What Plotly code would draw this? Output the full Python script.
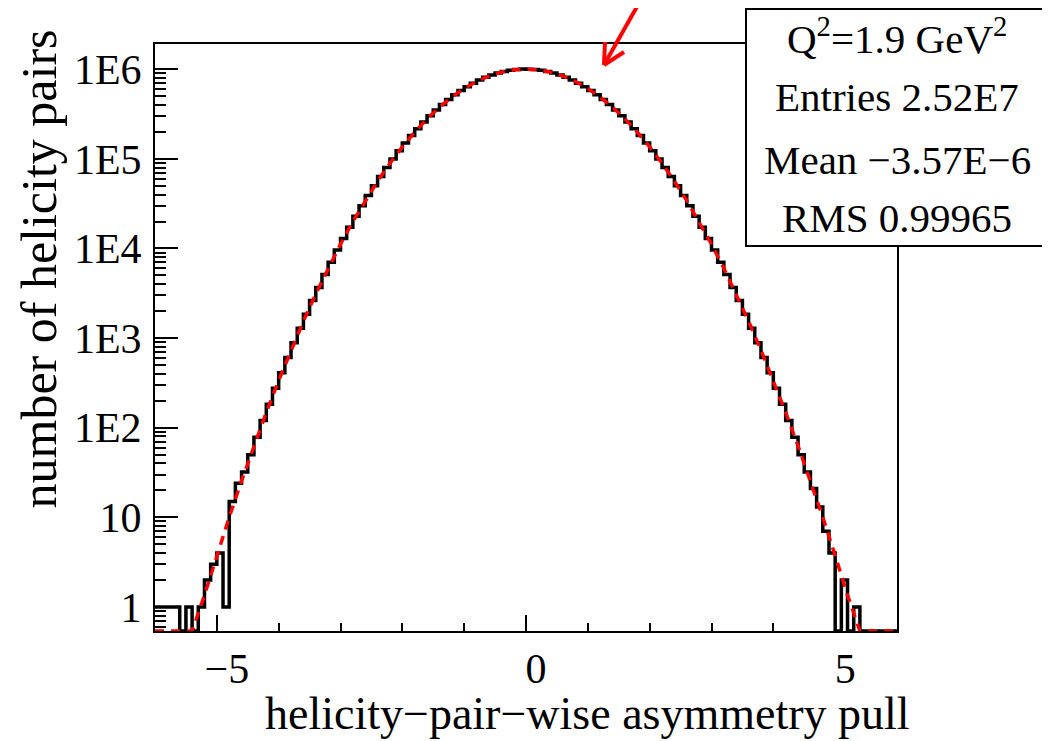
import numpy as np
import plotly.graph_objects as go

# ---------------- data ----------------
BIN_LO = -6.0
BIN_W = 0.1
# counts per 0.1-wide bin, from [-6.0,-5.9] to [5.9,6.0]
COUNTS = [
    1, 1, 1, 1, 0, 1, 0, 1, 2, 3, 4, 1, 15, 24,
    32, 50, 78, 120, 183, 275, 411, 608, 889, 1290,
    1840, 2620, 3670, 5110, 7040, 9600, 12900, 17300, 22900, 30000,
    38900, 50000, 63500, 80000, 99600, 123000, 150000, 182000, 217000, 258000,
    302000, 351000, 404000, 460000, 519000, 579000, 640000, 700000, 759000, 814000,
    864000, 908000, 945000, 974000, 994000, 1004000,
    1003000, 994000, 974000, 945000, 908000, 864000,
    814000, 759000, 700000, 640000, 579000, 519000, 460000, 404000, 351000, 302000,
    258000, 217000, 182000, 150000, 123000, 99600, 80000, 63500, 50000, 38900,
    30000, 22900, 17300, 12900, 9600, 7040, 5110, 3670, 2620, 1840,
    1290, 889, 608, 411, 275, 183, 120, 78, 50, 32,
    21, 13, 7, 4, 0, 2, 0, 1, 0, 0, 0, 0, 0, 0,
]

# red dashed Gaussian fit, sampled along the curve
FIT_X = [-6.0, -5.8, -5.6, -5.4, -5.2, -5.0, -4.8, -4.6, -4.4, -4.2, -4.0,
         -3.8, -3.6, -3.4, -3.2, -3.0, -2.8, -2.6, -2.4, -2.2, -2.0,
         -1.8, -1.6, -1.4, -1.2, -1.0, -0.8, -0.6, -0.4, -0.2, 0.0,
         0.2, 0.4, 0.6, 0.8, 1.0, 1.2, 1.4, 1.6, 1.8, 2.0,
         2.2, 2.4, 2.6, 2.8, 3.0, 3.2, 3.4, 3.6, 3.8, 4.0,
         4.2, 4.4, 4.6, 4.8, 5.0, 5.2, 5.4, 5.6, 5.8, 6.0]
FIT_Y = [0.015, 0.05, 0.16, 0.47, 1.35, 3.75, 10.0, 25.5, 62.8, 148, 337,
         735, 1542, 3104, 6006, 11160, 19940, 34220, 56410, 89370, 136000,
         198900, 279400, 377200, 489200, 609600, 729800, 839400, 927700, 985100, 1005000,
         985100, 927700, 839400, 729800, 609600, 489200, 377200, 279400, 198900, 136000,
         89370, 56410, 34220, 19940, 11160, 6006, 3104, 1542, 735, 337,
         148, 62.8, 25.5, 10.0, 3.75, 1.35, 0.47, 0.16, 0.05, 0.015]

X_TICKS = [-5, 0, 5]
X_TICK_TEXT = ["\u22125", "0", "5"]
X_MINOR = [-6, -4, -3, -2, -1, 1, 2, 3, 4, 6]
Y_TICKS = [1, 10, 100, 1e3, 1e4, 1e5, 1e6]
Y_TICK_TEXT = ["1", "10", "1E2", "1E3", "1E4", "1E5", "1E6"]

STAT_LINES = ["Q<sup>2</sup>=1.9 GeV<sup>2</sup>", "Entries 2.52E7",
              "Mean \u22123.57E\u22126", "RMS 0.99965"]
X_TITLE = "helicity\u2212pair\u2212wise asymmetry pull"
Y_TITLE = "number of helicity pairs"

# ---------------- layout geometry (page pixels) ----------------
PAGE_OFF = 8                      # default body margin of the html page
W, H = 1050 - PAGE_OFF, 741 - PAGE_OFF
L, R, T, B = 155, 897, 44, 631    # plot frame, page pixels
Y_LOG_RANGE = [-0.269, 6.282]
Y_FLOOR = 10 ** Y_LOG_RANGE[0]
FONT = "Liberation Serif"


def px(x):
    return (x - L) / (R - L)


def py(y):
    return (B - y) / (B - T)


counts = np.array(COUNTS, dtype=float)
edges = BIN_LO + BIN_W * np.arange(len(counts) + 1)
step_y = np.append(np.maximum(counts, Y_FLOOR), max(counts[-1], Y_FLOOR))
fit_y = np.maximum(np.array(FIT_Y), Y_FLOOR)

fig = go.Figure()
fig.add_trace(go.Scatter(x=edges, y=step_y, mode="lines", line_shape="hv",
                         line=dict(color="black", width=3.5), showlegend=False,
                         hoverinfo="skip"))
fig.add_trace(go.Scatter(x=FIT_X, y=fit_y, mode="lines",
                         line=dict(color="#ff0000", width=3.5, dash="9px,7px"),
                         showlegend=False, hoverinfo="skip"))

minor_y = [k * 10.0 ** n for n in range(-1, 7) for k in range(2, 10)
           if Y_LOG_RANGE[0] <= np.log10(k * 10.0 ** n) <= Y_LOG_RANGE[1]]

fig.update_layout(
    width=W, height=H,
    margin=dict(l=L - PAGE_OFF, r=W - (R - PAGE_OFF), t=T - PAGE_OFF,
                b=H - (B - PAGE_OFF), pad=0),
    paper_bgcolor="white", plot_bgcolor="white",
    font=dict(family=FONT, color="black"),
    xaxis=dict(range=[-6, 6], tickmode="array", tickvals=X_TICKS, ticktext=X_TICK_TEXT,
               ticks="inside", ticklen=16, tickwidth=2, tickcolor="black",
               showline=True, linewidth=2, linecolor="black", mirror=True,
               showgrid=False, zeroline=False,
               tickfont=dict(family=FONT, size=42, color="black"),
               ticklabelshift=10, ticklabelstandoff=0,
               minor=dict(tickmode="array", tickvals=X_MINOR, ticks="inside",
                          ticklen=8, tickwidth=2, tickcolor="black", showgrid=False)),
    yaxis=dict(type="log", range=Y_LOG_RANGE, tickmode="array", tickvals=Y_TICKS,
               ticktext=Y_TICK_TEXT,
               ticks="inside", ticklen=23, tickwidth=2, tickcolor="black",
               showline=True, linewidth=2, linecolor="black", mirror=True,
               showgrid=False, zeroline=False,
               tickfont=dict(family=FONT, size=42, color="black"),
               ticklabelstandoff=3,
               minor=dict(tickmode="array", tickvals=minor_y, ticks="inside",
                          ticklen=11, tickwidth=2, tickcolor="black", showgrid=False)),
)

shapes = []
# stat box
shapes.append(dict(type="rect", xref="paper", yref="paper",
                   x0=px(746), x1=px(1047), y0=py(246), y1=py(9),
                   fillcolor="white", line=dict(color="black", width=2), layer="above"))
# red arrow pointing at the peak region
tip = (604, 65)
for end in [(643, -4), (605, 42), (624, 52)]:
    shapes.append(dict(type="line", xref="paper", yref="paper",
                       x0=px(tip[0]), y0=py(tip[1]), x1=px(end[0]), y1=py(end[1]),
                       line=dict(color="#ff0000", width=4), layer="above"))
fig.update_layout(shapes=shapes)

annotations = []
for text, yc in zip(STAT_LINES, [36, 97, 160, 218]):
    annotations.append(dict(text=text, xref="paper", yref="paper", x=px(897), y=py(yc),
                            xanchor="center", yanchor="middle", showarrow=False,
                            font=dict(family=FONT, size=41, color="black")))
annotations.append(dict(text=X_TITLE, xref="paper", yref="paper", x=px(912), y=py(741),
                        xanchor="right", yanchor="bottom", showarrow=False,
                        font=dict(family=FONT, size=46, color="black")))
annotations.append(dict(text=Y_TITLE, xref="paper", yref="paper", x=px(38), y=py(28),
                        xanchor="center", yanchor="top", textangle=-90, showarrow=False,
                        font=dict(family=FONT, size=50, color="black")))
fig.update_layout(annotations=annotations)

fig.write_html("out.html", config={"displayModeBar": False})
